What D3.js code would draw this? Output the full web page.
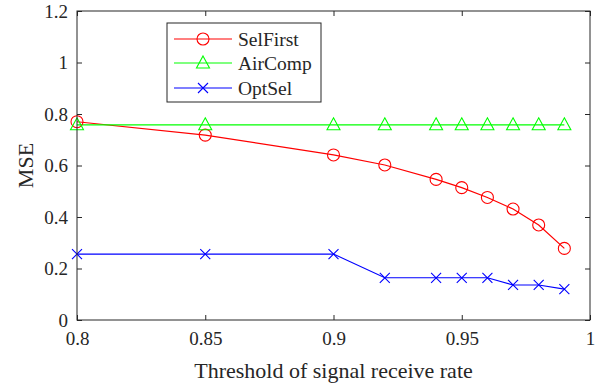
<!DOCTYPE html>
<html><head><meta charset="utf-8">
<script src="https://cdn.jsdelivr.net/npm/d3@7"></script>
<style>body{margin:0;background:#fff}svg{display:block}text{font-family:"Liberation Serif","Times New Roman",serif;fill:#262626}</style>
</head><body><svg id="c" width="605" height="386"></svg>
<script>
const xValues = [0.8, 0.85, 0.9, 0.92, 0.94, 0.95, 0.96, 0.97, 0.98, 0.99];
const selFirst = [0.770, 0.718, 0.641, 0.602, 0.546, 0.514, 0.476, 0.431, 0.369, 0.278];
const airComp = [0.758, 0.758, 0.758, 0.758, 0.758, 0.758, 0.758, 0.758, 0.758, 0.758];
const optSel = [0.256, 0.256, 0.256, 0.164, 0.164, 0.164, 0.164, 0.136, 0.136, 0.120];
const xTicks = [0.8, 0.85, 0.9, 0.95, 1];
const yTicks = [0, 0.2, 0.4, 0.6, 0.8, 1, 1.2];
const seriesNames = ["SelFirst", "AirComp", "OptSel"];
const seriesColors = ["#ff0000", "#00ff00", "#0000ff"];
const xLabel = "Threshold of signal receive rate";
const yLabel = "MSE";

const svg = d3.select("#c");
const L = 77, R = 590, T = 11, B = 320;
const x = d3.scaleLinear().domain([0.8, 1]).range([L, R]);
const y = d3.scaleLinear().domain([0, 1.2]).range([B, T]);
const axisColor = "#262626";

const series = [selFirst, airComp, optSel];

series.forEach((vals, i) => {
  const line = d3.line().x((d, j) => x(xValues[j])).y(d => y(d));
  svg.append("path").datum(vals).attr("d", line)
    .attr("fill", "none").attr("stroke", seriesColors[i]).attr("stroke-width", 1.2);
});

function marker(g, type, color) {
  if (type === 0) {
    g.append("circle").attr("r", 6).attr("fill", "none").attr("stroke", color).attr("stroke-width", 1.1);
  } else if (type === 1) {
    g.append("path").attr("d", "M0,-7 L6.5,5 L-6.5,5 Z").attr("fill", "none").attr("stroke", color).attr("stroke-width", 1.1);
  } else {
    g.append("path").attr("d", "M-5,-5 L5,5 M-5,5 L5,-5").attr("fill", "none").attr("stroke", color).attr("stroke-width", 1.1);
  }
}
series.forEach((vals, i) => {
  vals.forEach((v, j) => {
    const g = svg.append("g").attr("transform", `translate(${x(xValues[j])},${y(v)})`);
    marker(g, i, seriesColors[i]);
  });
});

const tickLen = 5;
const xb = svg.append("g").attr("transform", `translate(0,${B})`)
  .call(d3.axisBottom(x).tickValues(xTicks).tickSize(-tickLen).tickPadding(12).tickFormat(d => d3.format("")(d)));
const xt = svg.append("g").attr("transform", `translate(0,${T})`)
  .call(d3.axisTop(x).tickValues(xTicks).tickSize(-tickLen).tickFormat(""));
const yl = svg.append("g").attr("transform", `translate(${L},0)`)
  .call(d3.axisLeft(y).tickValues(yTicks).tickSize(-tickLen).tickPadding(9).tickFormat(d => d3.format("")(+d.toFixed(1))));
const yr = svg.append("g").attr("transform", `translate(${R},0)`)
  .call(d3.axisRight(y).tickValues(yTicks).tickSize(-tickLen).tickFormat(""));
[xb, xt, yl, yr].forEach(a => {
  a.selectAll(".tick line").attr("stroke", axisColor);
  a.selectAll("text").attr("font-family", "Liberation Serif").attr("font-size", 19).attr("fill", axisColor);
});
svg.selectAll(".domain").attr("d", null);
svg.append("rect").attr("x", L).attr("y", T).attr("width", R - L).attr("height", B - T)
  .attr("fill", "none").attr("stroke", axisColor).attr("stroke-width", 1);

svg.append("text").attr("x", (L + R) / 2).attr("y", 378).attr("text-anchor", "middle")
  .attr("font-size", 22).text(xLabel);
svg.append("text").attr("transform", `translate(33,${(T + B) / 2}) rotate(-90)`).attr("text-anchor", "middle")
  .attr("font-size", 22).text(yLabel);

const lg = svg.append("g");
lg.append("rect").attr("x", 167).attr("y", 23).attr("width", 154).attr("height", 79)
  .attr("fill", "#fff").attr("stroke", axisColor).attr("stroke-width", 1);
const rowsY = [39, 63, 88];
seriesNames.forEach((n, i) => {
  lg.append("line").attr("x1", 174).attr("x2", 232).attr("y1", rowsY[i]).attr("y2", rowsY[i])
    .attr("stroke", seriesColors[i]).attr("stroke-width", 1.2);
  const g = lg.append("g").attr("transform", `translate(203,${rowsY[i]})`);
  marker(g, i, seriesColors[i]);
  lg.append("text").attr("x", 238).attr("y", rowsY[i]).attr("dy", "0.35em").attr("font-size", 19.5).text(n);
});
</script></body></html>
